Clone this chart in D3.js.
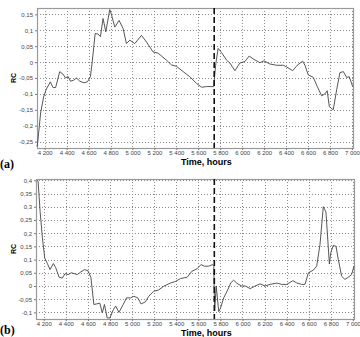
<!DOCTYPE html>
<html>
<head>
<meta charset="utf-8">
<script src="https://cdn.jsdelivr.net/npm/d3@7"></script>
<style>
  body { margin: 0; background: #fff; }
  svg { display: block; }
</style>
</head>
<body>
<div id="chart"></div>
<script>
// Datos
// ========================
var timeA = [4130, 4136, 4163, 4190, 4215, 4252, 4276, 4300, 4337, 4367, 4390, 4413, 4435, 4465, 4490, 4520, 4557, 4590, 4617, 4635,
  4660, 4687, 4708, 4732, 4757, 4793, 4808, 4839, 4878, 4915, 4945, 4976, 5021, 5082, 5128, 5188, 5234, 5310, 5356, 5400,
  5462, 5523, 5584, 5630, 5675, 5740, 5760, 5781, 5812, 5858, 5888, 5934, 5979, 6025, 6064, 6100, 6162, 6198, 6253, 6314,
  6375, 6404, 6460, 6502, 6551, 6572, 6602, 6648, 6685, 6724, 6754, 6775, 6794, 6830, 6861, 6891, 6922, 6952, 6976, 7007];
var rcA = [-0.265, -0.253, -0.16, -0.11, -0.085, -0.062, -0.08, -0.08, -0.03, -0.038, -0.05, -0.045, -0.06, -0.057, -0.05, -0.06, -0.065, -0.062, -0.046, 0.006,
  0.09, 0.088, 0.08, 0.137, 0.095, 0.165, 0.15, 0.11, 0.131, 0.105, 0.058, 0.069, 0.058, 0.084, 0.063, 0.032, 0.028, 0.006, -0.009, -0.013,
  -0.03, -0.046, -0.067, -0.079, -0.077, -0.077, -0.004, 0.043, 0.03, 0.006, -0.003, -0.027, -0.003, 0.002, 0.019, 0.01, -0.002, 0.004, -0.006, -0.01,
  -0.01, -0.015, -0.027, -0.01, 0.003, -0.01, -0.04, -0.048, -0.077, -0.106, -0.1, -0.09, -0.14, -0.15, -0.087, -0.033, -0.03, -0.048, -0.046, -0.077];

var timeB = [4140, 4149, 4167, 4188, 4209, 4233, 4257, 4287, 4308, 4339, 4369, 4393, 4420, 4450, 4474, 4505, 4535, 4570, 4600, 4627,
  4654, 4678, 4708, 4730, 4750, 4775, 4800, 4830, 4851, 4881, 4920, 4950, 4986, 5016, 5052, 5082, 5121, 5151, 5196, 5241,
  5287, 5347, 5392, 5438, 5498, 5543, 5588, 5624, 5654, 5694, 5730, 5740, 5748, 5762, 5785, 5800, 5830, 5860, 5895, 5920,
  5950, 5990, 6025, 6070, 6115, 6160, 6205, 6250, 6310, 6355, 6400, 6456, 6490, 6536, 6566, 6597, 6642, 6672, 6702, 6732,
  6756, 6787, 6800, 6823, 6847, 6868, 6898, 6928, 6958, 6988, 7010];
var rcB = [0.4, 0.397, 0.283, 0.182, 0.106, 0.085, 0.062, 0.085, 0.07, 0.033, 0.03, 0.047, 0.043, 0.05, 0.047, 0.043, 0.053, 0.062, 0.058, 0.033,
  -0.07, -0.068, -0.065, -0.102, -0.07, -0.121, -0.121, -0.09, -0.076, -0.1, -0.07, -0.045, -0.045, -0.039, -0.045, -0.068, -0.06, -0.039, -0.02, -0.015,
  -0.001, 0.011, 0.017, 0.028, 0.033, 0.056, 0.065, 0.081, 0.075, 0.075, 0.081, 0.075, -0.095, 0.0, -0.097, -0.085, -0.045, -0.02, 0.012, 0.022,
  0.01, 0.0, 0.0, -0.01, 0, 0.008, 0, 0.006, 0.011, 0.006, 0.006, 0.02, 0.012, 0.006, 0.006, 0.05, 0.06, 0.075, 0.157, 0.3,
  0.28, 0.083, 0.127, 0.154, 0.15, 0.1, 0.037, 0.025, 0.033, 0.043, 0.075];

var xTicks = [4200, 4400, 4600, 4800, 5000, 5200, 5400, 5600, 5800, 6000, 6200, 6400, 6600, 6800, 7000];
var yTicksA = [0.15, 0.1, 0.05, 0, -0.05, -0.1, -0.15, -0.2, -0.25];
var yTicksB = [0.4, 0.35, 0.3, 0.25, 0.2, 0.15, 0.1, 0.05, 0, -0.05, -0.1];
var marcaTiempo = 5745;

var svg = d3.select("#chart")
  .append("svg")
  .attr("width", 360)
  .attr("height", 337);

// formato con coma decimal y espacio de miles
function fmtY(v) { return String(+v.toFixed(2)).replace(".", ","); }
function fmtX(v) { return String(v).replace(/(\d)(\d{3})$/, "$1 $2"); }

function panel(cfg) {
  var x = d3.scaleLinear().domain([4130, 7010]).range([cfg.left, cfg.right]);
  var y = d3.scaleLinear().domain(cfg.yDomain).range([cfg.bottom, cfg.top]);

  // rejilla
  svg.append("g").selectAll("line.gx")
    .data(xTicks).enter().append("line")
    .attr("x1", function(d) { return Math.round(x(d)) + 0.5; })
    .attr("x2", function(d) { return Math.round(x(d)) + 0.5; })
    .attr("y1", cfg.top).attr("y2", cfg.bottom)
    .attr("stroke", "#8a8a8a").attr("stroke-width", 1)
    .attr("stroke-dasharray", "1,2");
  svg.append("g").selectAll("line.gy")
    .data(cfg.yTicks).enter().append("line")
    .attr("y1", function(d) { return Math.round(y(d)) + 0.5; })
    .attr("y2", function(d) { return Math.round(y(d)) + 0.5; })
    .attr("x1", cfg.left).attr("x2", cfg.right)
    .attr("stroke", "#8a8a8a").attr("stroke-width", 1)
    .attr("stroke-dasharray", "1,2");

  // marco
  svg.append("rect")
    .attr("x", cfg.left + 0.5).attr("y", cfg.top + 0.5)
    .attr("width", cfg.right - cfg.left).attr("height", cfg.bottom - cfg.top)
    .attr("fill", "none").attr("stroke", "#999").attr("stroke-width", 1.2);

  // ejes
  var ax = svg.append("g")
    .attr("transform", "translate(0," + cfg.bottom + ")")
    .call(d3.axisBottom(x).tickValues(xTicks).tickFormat(fmtX).tickSize(2).tickPadding(1));
  var ay = svg.append("g")
    .attr("transform", "translate(" + cfg.left + ",0)")
    .call(d3.axisLeft(y).tickValues(cfg.yTicks).tickFormat(fmtY).tickSize(2).tickPadding(2));
  [ax, ay].forEach(function(a) {
    a.select(".domain").remove();
    a.selectAll("line").attr("stroke", "#777");
    a.selectAll("text").attr("font-family", "Arial, 'Liberation Sans', sans-serif")
      .attr("font-size", 6).attr("fill", "#444");
  });

  // linea de la serie
  var pts = d3.zip(cfg.time, cfg.rc);
  svg.append("path")
    .datum(pts)
    .attr("fill", "none")
    .attr("stroke", "#444")
    .attr("stroke-width", 0.9)
    .attr("d", d3.line()
      .x(function(d) { return x(d[0]); })
      .y(function(d) { return y(d[1]); }));

  // linea discontinua
  svg.append("line")
    .attr("x1", x(marcaTiempo)).attr("x2", x(marcaTiempo))
    .attr("y1", cfg.top).attr("y2", cfg.bottom)
    .attr("stroke", "#111").attr("stroke-width", 1.6)
    .attr("stroke-dasharray", "6,3");

  // titulos
  svg.append("text")
    .attr("transform", "translate(" + cfg.yLabelX + "," + ((cfg.top + cfg.bottom) / 2) + ") rotate(-90)")
    .attr("text-anchor", "middle")
    .attr("font-family", "Arial, 'Liberation Sans', sans-serif")
    .attr("font-weight", "bold").attr("font-size", 7)
    .text("RC");
  svg.append("text")
    .attr("x", 181).attr("y", cfg.bottom + 17)
    .attr("font-family", "Arial, 'Liberation Sans', sans-serif")
    .attr("font-weight", "bold").attr("font-size", 9)
    .text("Time, hours");
  svg.append("text")
    .attr("x", 0).attr("y", cfg.letterY)
    .attr("font-family", "'Times New Roman', 'Liberation Serif', serif")
    .attr("font-weight", "bold").attr("font-size", 12)
    .text(cfg.letter);
}

panel({ left: 37, right: 353, top: 8, bottom: 148, yDomain: [-0.27, 0.17],
  yTicks: yTicksA, time: timeA, rc: rcA, letter: "(a)", letterY: 168, yLabelX: 16 });
panel({ left: 36, right: 354, top: 179, bottom: 319, yDomain: [-0.125, 0.405],
  yTicks: yTicksB, time: timeB, rc: rcB, letter: "(b)", letterY: 334, yLabelX: 16 });
</script>
</body>
</html>
